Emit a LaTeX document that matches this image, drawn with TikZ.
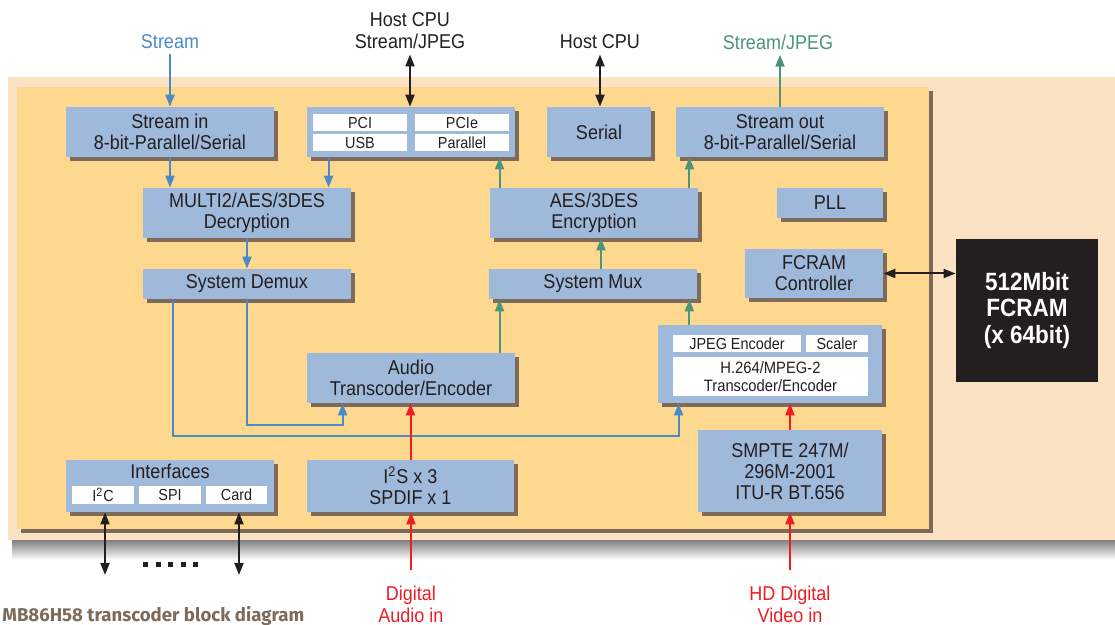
\documentclass[tikz,border=0pt]{standalone}
\usepackage{fontspec}
\setmainfont{Liberation Sans}[FakeStretch=0.9]
\newfontfamily\captionfont{Fira Sans}
\usepackage{tikz}
\usetikzlibrary{arrows.meta, shadows}
\definecolor{blockblue}{HTML}{9FB9DB}
\definecolor{shadowbrown}{HTML}{7D6A5A}
\definecolor{chiporange}{HTML}{FED88F}
\definecolor{boardpeach}{HTML}{FAE2C2}
\definecolor{inkdark}{HTML}{231F20}
\definecolor{flowblue}{HTML}{4A8AC6}
\definecolor{flowgreen}{HTML}{4B957A}
\definecolor{flowred}{HTML}{EE1C25}
\tikzset{
  block/.style    = {rectangle, fill=blockblue, text=inkdark, align=center, inner sep=0pt,
                     font=\fontsize{10}{10.5}\selectfont,
                     drop shadow={shadow xshift=2pt, shadow yshift=-2pt, fill=shadowbrown, opacity=1}},
  cell/.style     = {rectangle, fill=white, text=inkdark, align=center, inner sep=0pt, font=\fontsize{8}{9}\selectfont},
  memchip/.style  = {rectangle, fill=inkdark, text=white, align=center, inner sep=0pt,
                     font=\bfseries\fontsize{12.5}{13.3}\selectfont},
  tag/.style      = {text=inkdark, align=center, inner sep=2.5pt, font=\fontsize{10}{11}\selectfont},
  bluewire/.style = {draw=flowblue, line width=1pt, -{Triangle[length=6pt, width=4.5pt]}},
  greenwire/.style= {draw=flowgreen, line width=1pt, -{Triangle[length=6pt, width=4.5pt]}},
  redwire/.style  = {draw=flowred, line width=1pt, -{Triangle[length=6pt, width=4.5pt]}},
  hostwire/.style = {draw=inkdark, line width=1pt, {Triangle[length=6pt, width=4.5pt]}-{Triangle[length=6pt, width=4.5pt]}},
}

\begin{document}
\begin{tikzpicture}[x=0.5pt, y=-0.5pt]
    \useasboundingbox (0,0) rectangle (1115,625);

    % board and chip panels
    \shade[top color=black!55, bottom color=white] (12,538) rectangle (1115,560);
    \fill[boardpeach] (8,77) rectangle (1115,540);
    \fill[shadowbrown] (21,91) rectangle (933,533);
    \fill[chiporange] (17,87) rectangle (929,529);

    % outside labels
    \node[tag, text=flowblue] (slbl) at (170,42) {Stream};
    \node[tag] (hostlbl) at (410,31) {Host CPU\\Stream/JPEG};
    \node[tag] (cpulbl) at (600,42) {Host CPU};
    \node[tag, text=flowgreen] (sjlbl) at (778,42) {Stream/JPEG};
    \node[tag, text=flowred] (dalbl) at (411,604) {Digital\\Audio in};
    \node[tag, text=flowred] (hdlbl) at (790,604) {HD Digital\\Video in};

    % top row
    \node[block, minimum width=104pt, minimum height=25pt] (sin) at (170,132) {Stream in\\8-bit-Parallel/Serial};
    \node[block, minimum width=104pt, minimum height=25pt] (host) at (411,132) {};
    \node[cell, minimum width=47pt, minimum height=8.5pt] (pci) at (360,122.5) {PCI};
    \node[cell, minimum width=47pt, minimum height=8.5pt] (pcie) at (462,122.5) {PCIe};
    \node[cell, minimum width=47pt, minimum height=8.5pt] (usb) at (360,142.5) {USB};
    \node[cell, minimum width=47pt, minimum height=8.5pt] (par) at (462,142.5) {Parallel};
    \node[block, minimum width=52pt, minimum height=25pt] (serial) at (599,132) {Serial};
    \node[block, minimum width=104pt, minimum height=25pt] (sout) at (780,132) {Stream out\\8-bit-Parallel/Serial};

    % crypto row
    \node[block, minimum width=104pt, minimum height=25pt] (dec) at (247,213) {MULTI2/AES/3DES\\Decryption};
    \node[block, minimum width=104pt, minimum height=25pt] (enc) at (594,213) {AES/3DES\\Encryption};
    \node[block, minimum width=53pt, minimum height=15pt] (pll) at (830,203) {PLL};

    % mux row
    \node[block, minimum width=104pt, minimum height=15pt] (demux) at (247,284) {System Demux};
    \node[block, minimum width=104pt, minimum height=15pt] (mux) at (593,284) {System Mux};
    \node[block, minimum width=69pt, minimum height=24.5pt] (fctl) at (814,273.5) {FCRAM\\Controller};
    \node[memchip, minimum width=71pt, minimum height=71.5pt] (fcram) at (1027,310.5) {512Mbit\\FCRAM\\(x 64bit)};

    % codecs
    \node[block, minimum width=104pt, minimum height=25pt] (audio) at (411,378) {Audio\\Transcoder/Encoder};
    \node[block, minimum width=112pt, minimum height=39pt] (video) at (770,364) {};
    \node[cell, minimum width=64pt, minimum height=8.5pt] (jpeg) at (737,343.5) {JPEG Encoder};
    \node[cell, minimum width=31pt, minimum height=8.5pt] (scaler) at (837,343.5) {Scaler};
    \node[cell, minimum width=97.5pt, minimum height=19.5pt, font=\fontsize{8.2}{9}\selectfont] (h264) at (770.5,376.5)
      {H.264/MPEG-2\\Transcoder/Encoder};

    % bottom row
    \node[block, minimum width=104pt, minimum height=26pt] (intf) at (170,486) {};
    \node[tag, inner sep=0pt] (intft) at (170,471) {Interfaces};
    \node[cell, minimum width=31pt, minimum height=9pt] (i2c) at (103,495) {I\textsuperscript{2}C};
    \node[cell, minimum width=31pt, minimum height=9pt] (spi) at (170,495) {SPI};
    \node[cell, minimum width=30.5pt, minimum height=9pt] (card) at (236.5,495) {Card};
    \node[block, minimum width=103.5pt, minimum height=26pt] (i2s) at (410.5,486) {I\textsuperscript{2}S x 3\\SPDIF x 1};
    \node[block, minimum width=92pt, minimum height=41pt] (smpte) at (790,471) {SMPTE 247M/\\296M-2001\\ITU-R BT.656};

    % helper points
    \coordinate (m1) at ([xshift=5.5pt]mux.south west);
    \coordinate (m2) at ([xshift=-4pt]mux.south east);
    \coordinate (a1) at ([xshift=18pt]audio.south west);
    \coordinate (v1) at ([xshift=10.5pt]video.south west);
    \coordinate (h1) at ([xshift=11pt]host.south west);
    \coordinate (e1) at ([xshift=5pt]enc.north west);
    \coordinate (e2) at ([xshift=-4.5pt]enc.north east);
    \coordinate (x1) at ([xshift=4pt]mux.north);
    \coordinate (io1) at (105,575);
    \coordinate (io2) at (239,575);

    % host side
    \draw[bluewire] (slbl.south) -- (slbl.south |- sin.north);
    \draw[hostwire] (hostlbl.south) -- (hostlbl.south |- host.north);
    \draw[hostwire] (cpulbl.south) -- (cpulbl.south |- serial.north);
    \draw[greenwire] (sout.north) -- (sjlbl.south -| sout.north);

    % decrypt path
    \draw[bluewire] (sin.south) -- (sin.south |- dec.north);
    \draw[bluewire] (h1) -- (h1 |- dec.north);
    \draw[bluewire] (dec.south) -- (demux.north);
    \draw[bluewire] (demux.south) |- ([yshift=-11pt]a1) -- (a1);
    \draw[bluewire] ([xshift=15pt]demux.south west) |- ([yshift=-16.5pt]v1) -- (v1);

    % encrypt path
    \draw[greenwire] (m1 |- audio.north) -- (m1);
    \draw[greenwire] (m2 |- video.north) -- (m2);
    \draw[greenwire] (x1) -- (x1 |- enc.south);
    \draw[greenwire] (e1) -- (e1 |- host.south);
    \draw[greenwire] (e2) -- (e2 |- sout.south);

    % inputs
    \draw[redwire] (i2s.north) -- (i2s.north |- audio.south);
    \draw[redwire] (smpte.north) -- (smpte.north |- video.south);
    \draw[redwire, shorten <=5pt] (dalbl.north) -- (dalbl.north |- i2s.south);
    \draw[redwire, shorten <=5pt] (hdlbl.north) -- (hdlbl.north |- smpte.south);

    % memory and interfaces
    \draw[hostwire] (fctl.east) -- (fctl.east -| fcram.west);
    \draw[hostwire] (io1 |- intf.south) -- (io1);
    \draw[hostwire] (io2 |- intf.south) -- (io2);
    \foreach \i in {0,...,4}
      \fill[inkdark] (143+\i*12.5,562) rectangle ++(5,5);

    % caption
    \node[anchor=base west, inner sep=0pt, text=shadowbrown, font=\captionfont\bfseries\fontsize{9.3}{10}\selectfont]
      (caption) at (2,622) {MB86H58 transcoder block diagram};
  \end{tikzpicture}
\end{document}
